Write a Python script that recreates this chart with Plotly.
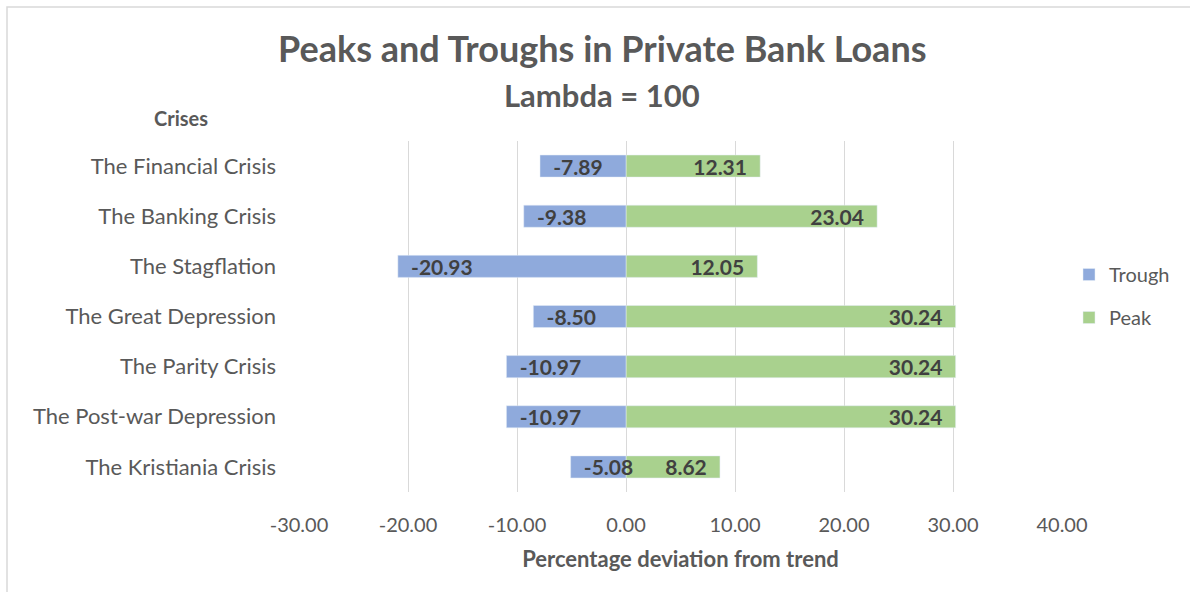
import plotly.graph_objects as go

crises = ["The Financial Crisis", "The Banking Crisis", "The Stagflation",
          "The Great Depression", "The Parity Crisis", "The Post-war Depression",
          "The Kristiania Crisis"]
trough = [-7.89, -9.38, -20.93, -8.50, -10.97, -10.97, -5.08]
peak = [12.31, 23.04, 12.05, 30.24, 30.24, 30.24, 8.62]
tick_vals = [-30, -20, -10, 0, 10, 20, 30, 40]

FONT = "Lato"
GREY = "#595959"
LBL = "#404040"
PAD = "\u00a0\u00a0"

fig = go.Figure()
fig.add_trace(go.Bar(
    y=crises, x=peak, orientation="h", name="Peak", legendgroup="p",
    legendrank=2,
    marker=dict(color="#A9D18E"),
    text=[f"{v:.2f}" + PAD for v in peak], textposition="inside",
    insidetextanchor="end", textangle=0,
    textfont=dict(family=FONT, size=21, color=LBL, weight="bold"),
    cliponaxis=False, hoverinfo="x+y",
))
fig.add_trace(go.Bar(
    y=crises, x=trough, orientation="h", name="Trough", legendgroup="t",
    legendrank=1,
    marker=dict(color="#8FAADC"),
    text=[PAD + f"{v:.2f}" for v in trough], textposition="inside",
    insidetextanchor="end", textangle=0,
    textfont=dict(family=FONT, size=21, color=LBL, weight="bold"),
    cliponaxis=False, hoverinfo="x+y",
))

L, R, T, B = 299, 128, 141, 100
W, H = 1190, 592
pw, ph = W - L - R, H - T - B

def px(x):
    return (x - L) / pw

def py(y):
    return (H - B - y) / ph

fig.update_layout(
    width=W, height=H,
    margin=dict(l=L, r=R, t=T, b=B),
    barmode="relative", bargap=0.56,
    plot_bgcolor="white", paper_bgcolor="white",
    font=dict(family=FONT, color=GREY),
    uniformtext=dict(mode="show", minsize=21),
    xaxis=dict(
        range=[-30, 40], tickvals=tick_vals,
        ticktext=[f"{v:.2f}" for v in tick_vals],
        showgrid=True, gridcolor="#D9D9D9", gridwidth=1,
        zeroline=False, showline=False, ticks="",
        ticklabelstandoff=19,
        tickfont=dict(size=20, color=GREY, family=FONT),
        title=dict(text="<b>Percentage deviation from trend</b>",
                   font=dict(size=22, color=GREY, family=FONT), standoff=16),
    ),
    yaxis=dict(
        autorange="reversed", showgrid=False, zeroline=False, showline=False,
        ticks="", ticklabelstandoff=22,
        tickfont=dict(size=22, color=GREY, family=FONT),
    ),
    legend=dict(
        x=px(1069), y=py(255), xanchor="left", yanchor="top",
        font=dict(size=20, color=GREY, family=FONT),
        traceorder="grouped",
        tracegroupgap=14, itemwidth=30,
        bgcolor="rgba(0,0,0,0)",
    ),
    showlegend=True,
    annotations=[
        dict(text="<b>Peaks and Troughs in Private Bank Loans</b>",
             xref="paper", yref="paper", x=px(602), y=py(48),
             xanchor="center", yanchor="middle", showarrow=False,
             font=dict(size=36, color=GREY, family=FONT)),
        dict(text="<b>Lambda = 100</b>",
             xref="paper", yref="paper", x=px(602), y=py(95),
             xanchor="center", yanchor="middle", showarrow=False,
             font=dict(size=31, color=GREY, family=FONT)),
        dict(text="<b>Crises</b>",
             xref="paper", yref="paper", x=px(152), y=py(118),
             xanchor="left", yanchor="middle", showarrow=False,
             font=dict(size=20, color=GREY, family=FONT)),
    ],
    shapes=[
        dict(type="rect", xref="paper", yref="paper",
             x0=px(7), x1=px(1200), y0=py(600), y1=py(7),
             line=dict(color="#D9D9D9", width=1.5), fillcolor="rgba(0,0,0,0)",
             layer="below"),
    ],
)

fig.write_html("out.html")
